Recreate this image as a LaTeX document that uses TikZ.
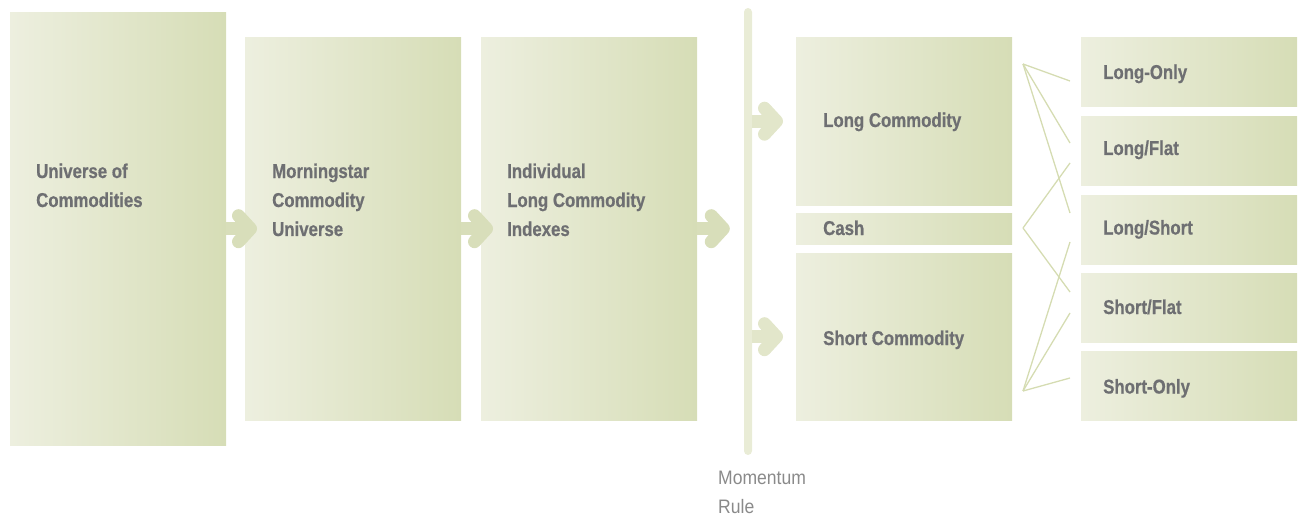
\documentclass[tikz,border=0pt]{standalone}
\usepackage{fontspec}
\setmainfont{Liberation Sans}
\newfontfamily\labelfont[FakeStretch=0.84,FakeBold=0.6]{Liberation Sans}
\newfontfamily\notefont[FakeStretch=0.9]{Liberation Sans}
\usetikzlibrary{arrows.meta}

\definecolor{boxL}{HTML}{EDEFDF}
\definecolor{boxR}{HTML}{D6DDB6}
\definecolor{arrowC}{HTML}{D8DEBA}
\definecolor{ruleC}{HTML}{E9ECD6}
\definecolor{ruleArrow}{HTML}{E2E6CA}
\definecolor{fanC}{HTML}{D5DCB2}
\definecolor{labelC}{HTML}{6E6F72}
\definecolor{noteC}{HTML}{8A8A8A}

\tikzset{
  panel/.style={shade, left color=boxL, right color=boxR, draw=none,
    inner sep=0pt, minimum width=216pt, anchor=north west},
  lbl/.style={font=\labelfont\bfseries\fontsize{20}{29}\selectfont,
    text=labelC, align=left, anchor=base west, inner sep=0pt},
  note/.style={font=\notefont\fontsize{19.5}{29}\selectfont,
    text=noteC, align=left, anchor=base west, inner sep=0pt},
  bigarrow/.style={draw=arrowC, line width=13pt,
    -{Straight Barb[length=12pt,width=26pt,round]}},
  rulearrow/.style={bigarrow, draw=ruleArrow},
  fan/.style={draw=fanC, line width=1.3pt}
}

\begin{document}
\begin{tikzpicture}[x=1pt,y=-1pt]
\useasboundingbox (0,0) rectangle (1302,516);

% main flow panels
\node[panel, minimum height=433pt] (b1) at (10,12) {};
\node[panel, minimum height=383pt] (b2) at (245,37) {};
\node[panel, minimum height=383pt] (b3) at (481,37) {};

% momentum rule bar
\node[fill=ruleC, rounded corners=4pt, inner sep=0pt,
      minimum width=8pt, minimum height=447pt] (rule) at (748,231.5) {};

% allocation panels
\node[panel, minimum height=168pt] (lc) at (796,37) {};
\node[panel, minimum height=31pt]  (cash) at (796,213) {};
\node[panel, minimum height=167pt] (sc) at (796,253) {};

% strategy panels
\node[panel, minimum height=69pt] (s1) at (1081,37) {};
\node[panel, minimum height=69pt] (s2) at (1081,116) {};
\node[panel, minimum height=69pt] (s3) at (1081,195) {};
\node[panel, minimum height=69pt] (s4) at (1081,273) {};
\node[panel, minimum height=69pt] (s5) at (1081,351) {};

% flow arrows
\draw[bigarrow] (b1.east) -- ([xshift=12pt]b2.west);
\draw[bigarrow] (b2.east) -- ([xshift=12pt]b3.west);
\draw[bigarrow] (b3.east) -- ([xshift=-14pt]b3.east -| rule.west);
\draw[rulearrow] (rule.east |- lc.west) -- ([xshift=-13pt]lc.west);
\draw[rulearrow] (rule.east |- sc.west) -- ([xshift=-13pt]sc.west);

% fan-out from allocations to strategies
\coordinate (fl) at (1023,64);
\coordinate (fc) at (1023,228);
\coordinate (fs) at (1023,391);
\coordinate (t1) at (1070,81);
\coordinate (t2) at (1070,143);
\coordinate (t3) at (1070,213);
\coordinate (t4) at (1070,163);
\coordinate (t5) at (1070,292);
\coordinate (t6) at (1070,242);
\coordinate (t7) at (1070,313);
\coordinate (t8) at (1070,378);
\draw[fan] (fl) -- (t1);
\draw[fan] (fl) -- (t2);
\draw[fan] (fl) -- (t3);
\draw[fan] (fc) -- (t4);
\draw[fan] (fc) -- (t5);
\draw[fan] (fs) -- (t6);
\draw[fan] (fs) -- (t7);
\draw[fan] (fs) -- (t8);

% labels (base anchor sits on the last line)
\node[lbl] (l1) at (36,207) {Universe of\\Commodities};
\node[lbl] (l2) at (272,236) {Morningstar\\Commodity\\Universe};
\node[lbl] (l3) at (507,236) {Individual\\Long Commodity\\Indexes};
\node[lbl] (l4) at (823,127) {Long Commodity};
\node[lbl] (l5) at (823,235) {Cash};
\node[lbl] (l6) at (823,345) {Short Commodity};
\node[lbl] (m1) at (1103,79) {Long-Only};
\node[lbl] (m2) at (1103,155) {Long/Flat};
\node[lbl] (m3) at (1103,234.5) {Long/Short};
\node[lbl] (m4) at (1103,314) {Short/Flat};
\node[lbl] (m5) at (1103,393.5) {Short-Only};
\node[note] (rn) at (718,513) {Momentum\\Rule};
\end{tikzpicture}
\end{document}
